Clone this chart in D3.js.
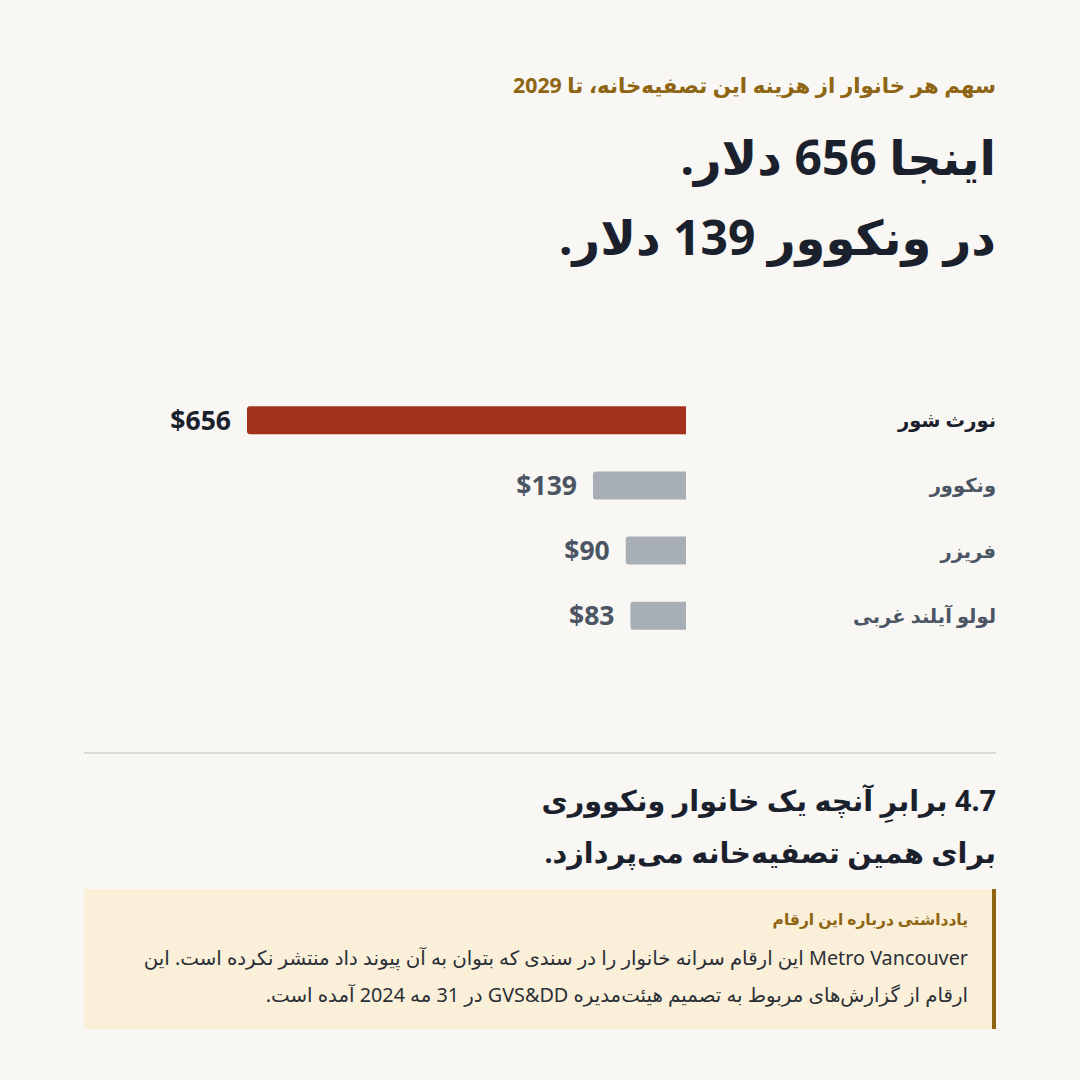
<!DOCTYPE html>
<html lang="fa"><head><meta charset="utf-8">
<script src="https://cdn.jsdelivr.net/npm/d3@7"></script>
<style>
html,body{margin:0;padding:0;background:#f9f7f3;}
svg{display:block;}
text{font-family:"Noto Sans","DejaVu Sans",sans-serif;}
</style></head>
<body>
<svg id="chart" width="1080" height="1080"></svg>
<script>
const categories = ["نورث شور", "ونکوور", "فریزر", "لولو آیلند غربی"];
const values = [656, 139, 90, 83];
const valueLabels = ["$656", "$139", "$90", "$83"];
const highlight = [true, false, false, false];

const eyebrow = "سهم هر خانوار از هزینه این تصفیه‌خانه، تا 2029";
const titleLines = ["اینجا 656 دلار.", "در ونکوور 139 دلار."];
const subLines = ["4.7 برابرِ آنچه یک خانوار ونکووری", "برای همین تصفیه‌خانه می‌پردازد."];
const noteTitle = "یادداشتی درباره این ارقام";
const noteLines = ["Metro Vancouver این ارقام سرانه خانوار را در سندی که بتوان به آن پیوند داد منتشر نکرده است. این",
                   "ارقام از گزارش‌های مربوط به تصمیم هیئت‌مدیره GVS&DD در 31 مه 2024 آمده است."];

const svg = d3.select("#chart");
svg.append("rect").attr("width",1080).attr("height",1080).attr("fill","#f9f7f3");

const R = 996;
function rtl(sel){ return sel.attr("direction","rtl").attr("text-anchor","start"); }

rtl(svg.append("text").attr("x",R).attr("y",93).attr("font-size",21.3).attr("font-weight",700)
  .attr("fill","#8e6513").text(eyebrow));

titleLines.forEach((t,i)=>{
  rtl(svg.append("text").attr("x",R).attr("y",175+i*80).attr("font-size",48).attr("font-weight",700)
    .attr("fill","#1b212c").text(t));
});

// bars
const x = d3.scaleLinear().domain([0, 656]).range([0, 439]);
const baseX = 686;
const y = d3.scaleBand().domain(categories).range([388, 648]).paddingInner(0.57).paddingOuter(0.28);

const g = svg.append("g");
const rows = g.selectAll("g.row").data(categories).join("g").attr("class","row");

rows.append("path")
  .attr("fill",(d,i)=>highlight[i] ? "#a3321c" : "#a8aeb5")
  .attr("d",(d,i)=>{
    const w = x(values[i]), h = y.bandwidth(), y0 = y(d), x0 = baseX - w, r = 3;
    return `M${baseX},${y0} L${x0+r},${y0} Q${x0},${y0} ${x0},${y0+r} L${x0},${y0+h-r} Q${x0},${y0+h} ${x0+r},${y0+h} L${baseX},${y0+h} Z`;
  });

rows.append("text")
  .attr("x",(d,i)=>baseX - x(values[i]) - 16)
  .attr("y",d=>y(d)+y.bandwidth()/2)
  .attr("dy","0.36em").attr("text-anchor","end")
  .attr("font-size",26.5).attr("font-weight",700)
  .attr("fill",(d,i)=>highlight[i] ? "#1b212c" : "#4b5563")
  .text((d,i)=>valueLabels[i]);

rows.append("text")
  .attr("x",R).attr("y",d=>y(d)+y.bandwidth()/2).attr("dy","0.36em")
  .attr("direction","rtl").attr("text-anchor","start")
  .attr("font-size",19.5).attr("font-weight",(d,i)=>highlight[i]?700:600)
  .attr("fill",(d,i)=>highlight[i] ? "#1b212c" : "#4b5563")
  .text(d=>d);

// divider
svg.append("line").attr("x1",84).attr("x2",R).attr("y1",753).attr("y2",753)
  .attr("stroke","#dcdad6").attr("stroke-width",2);

subLines.forEach((t,i)=>{
  rtl(svg.append("text").attr("x",R).attr("y",811+i*52).attr("font-size",28.7).attr("font-weight",700)
    .attr("fill","#1b212c").text(t));
});

// note box
svg.append("rect").attr("x",84).attr("y",889).attr("width",912).attr("height",140).attr("fill","#faefd9");
svg.append("rect").attr("x",992).attr("y",889).attr("width",4).attr("height",140).attr("fill","#8e6513");
rtl(svg.append("text").attr("x",968).attr("y",925).attr("font-size",15.5).attr("font-weight",700)
  .attr("fill","#8e6513").text(noteTitle));
noteLines.forEach((t,i)=>{
  rtl(svg.append("text").attr("x",968).attr("y",965+i*37).attr("font-size",19.8)
    .attr("fill","#2b2f36").text(t));
});
</script>
</body></html>
